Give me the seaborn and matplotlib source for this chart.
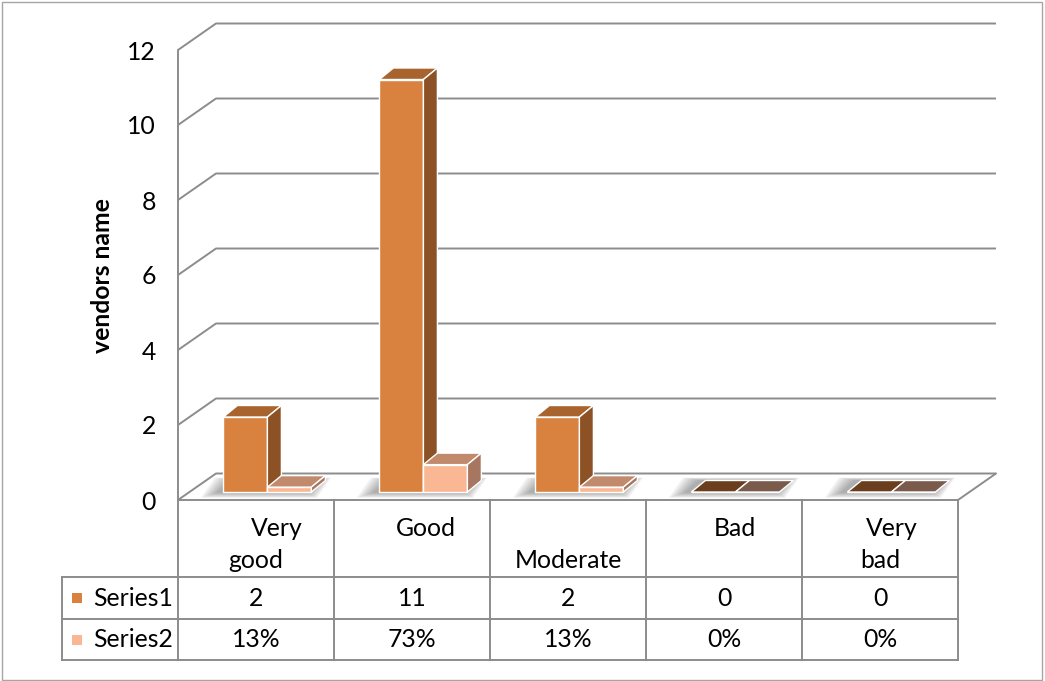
import matplotlib
matplotlib.use("Agg")
import matplotlib.pyplot as plt
from matplotlib.patches import Polygon, Rectangle
import pandas as pd
import seaborn as sns

# ---- data -------------------------------------------------------------
categories = ["Very good", "Good", "Moderate", "Bad", "Very bad"]
series_names = ["Series1", "Series2"]
series1 = [2, 11, 2, 0, 0]
series2 = [0.13, 0.73, 0.13, 0.0, 0.0]
y_ticks = [0, 2, 4, 6, 8, 10, 12]
y_label = "vendors name"

# wrapped captions of the table header row (first line, second line)
caption_lines = [("Very", "good"), ("Good", ""), ("", "Moderate"), ("Bad", ""), ("Very", "bad")]
caption_nudge = [21, 14, 0, 11, 12]  # px shift of the first caption line

# ---- style ------------------------------------------------------------
front_cols = ["#D9823F", "#F9B793"]
side_cols = ["#8C5226", "#A67660"]
top_cols = ["#A9642E", "#C18A6D"]
flat_cols = ["#6B3F1E", "#7A5A4B"]
grid_col = "#8C8C8C"
FS = 17.8

W, H, DPI = 1045, 681, 100
sns.set_style("white")
plt.rcParams["font.family"] = ["Lato", "DejaVu Sans"]
plt.rcParams["text.color"] = "black"

fig = plt.figure(figsize=(W / DPI, H / DPI), dpi=DPI)

# front plane of the 3-D plot area (pixels)
L, R, Y0, Y12 = 178, 958, 500, 50
ax = fig.add_axes([L / W, 1 - Y0 / H, (R - L) / W, (Y0 - Y12) / H])
sx = (R - L) / len(categories)
sy = (Y0 - Y12) / 12.0


def px(dx, dy):
    """pixel offset -> data offset on the plot axes"""
    return dx / sx, dy / sy


df = pd.DataFrame({
    "category": categories * 2,
    "series": [series_names[0]] * len(categories) + [series_names[1]] * len(categories),
    "value": series1 + series2,
})

sns.barplot(data=df, x="category", y="value", hue="series", order=categories,
            hue_order=series_names, palette=front_cols, saturation=1,
            width=0.564, gap=0, dodge=True, edgecolor="white", linewidth=1.0,
            errorbar=None, legend=False, ax=ax)

ax.set_xlim(-0.5, len(categories) - 0.5)
ax.set_ylim(0, 12)
ax.set_xlabel("")
ax.set_ylabel("")
ax.set_xticks([])
ax.set_yticks(y_ticks)
ax.set_yticklabels([str(t) for t in y_ticks], fontsize=FS, color="black")
ax.tick_params(axis="y", length=0, pad=16)
for sp in ax.spines.values():
    sp.set_visible(False)
ax.patch.set_alpha(0)

# walls and floor
bx, by = px(38, 26.5)
lw_grid = 1.4
x_lo, x_hi = -0.5, len(categories) - 0.5
for t in y_ticks:
    ax.plot([x_lo, x_lo + bx, x_hi + bx], [t, t + by, t + by], color=grid_col,
            lw=lw_grid, zorder=1, clip_on=False, solid_capstyle="butt")
ax.plot([x_lo, x_lo], [0, 12], color=grid_col, lw=lw_grid, zorder=1, clip_on=False)
ax.plot([x_lo, x_hi, x_hi + bx], [0, 0, by], color=grid_col, lw=lw_grid,
        zorder=1, clip_on=False)

# 3-D bar blocks built on seaborn's bars
fx, fy = px(11.4, 8)
bdx, bdy = px(14, 11.5)

# soft floor shadows around each group
half = 0.564 / 2
for i in range(len(categories)):
    xa, xb = i - half + fx, i + half + fx
    for k in range(8, 0, -1):
        ex, ey = px(2.2 * k, 1.2 * k)
        sh, _ = px(-5, 0)
        poly = [(xa - ex + sh, fy - ey * 0.6), (xb + ex * 0.6 + sh, fy - ey * 0.6),
                (xb + bdx + ex * 0.6 + sh, fy + bdy + ey * 0.3),
                (xa + bdx - ex + sh, fy + bdy + ey * 0.3)]
        ax.add_patch(Polygon(poly, closed=True, facecolor="#505050", edgecolor="none",
                             alpha=0.07, zorder=2, clip_on=False))

for s, cont in enumerate(ax.containers):
    for bar in cont.patches:
        x0 = bar.get_x() + fx
        w = bar.get_width()
        h = bar.get_height()
        bar.set_x(x0)
        bar.set_y(fy)
        bar.set_zorder(4 + s)
        bar.set_clip_on(False)
        y1 = fy + h
        top_c = top_cols[s] if h > 0 else flat_cols[s]
        top = Polygon([(x0, y1), (x0 + w, y1), (x0 + w + bdx, y1 + bdy), (x0 + bdx, y1 + bdy)],
                      closed=True, facecolor=top_c, edgecolor="white", lw=1.0,
                      zorder=4 + s, clip_on=False)
        ax.add_patch(top)
        if h > 0:
            side = Polygon([(x0 + w, fy), (x0 + w + bdx, fy + bdy), (x0 + w + bdx, y1 + bdy),
                            (x0 + w, y1)], closed=True, facecolor=side_cols[s],
                           edgecolor="white", lw=1.0, zorder=4 + s, clip_on=False)
            ax.add_patch(side)

# axis title
fig.text(103 / W, 1 - 276 / H, y_label, rotation=90, ha="center", va="center",
         fontsize=FS, fontweight="bold")

# ---- data table -------------------------------------------------------
TL, TB = 62, 660
ROW1, ROW2 = 77, 119  # row separators below the floor edge (px)
ax_t = fig.add_axes([TL / W, 1 - TB / H, (R - TL) / W, (TB - Y0) / H])
t_left = x_lo - (L - TL) / sx
ax_t.set_xlim(t_left, x_hi)
ax_t.set_ylim(TB - Y0, 0)
ax_t.axis("off")

tbl_kw = dict(color=grid_col, lw=lw_grid, clip_on=False, solid_capstyle="projecting")
for yy in (ROW1, ROW2, TB - Y0):
    ax_t.plot([t_left, x_hi], [yy, yy], **tbl_kw)
for j in range(len(categories) + 1):
    ax_t.plot([x_lo + j, x_lo + j], [0, TB - Y0], **tbl_kw)
ax_t.plot([t_left, t_left], [ROW1, TB - Y0], **tbl_kw)

line1_y, line2_y = 29, 61
for i, (l1, l2) in enumerate(caption_lines):
    if l1:
        ax_t.text(i + caption_nudge[i] / sx, line1_y, l1, ha="center", va="center", fontsize=FS)
    if l2:
        ax_t.text(i, line2_y, l2, ha="center", va="center", fontsize=FS)

rows = [(series1, lambda v: f"{v:g}"), (series2, lambda v: f"{v:.0%}")]
row_mid = [(ROW1 + ROW2) / 2, (ROW2 + TB - Y0) / 2]
for r, (vals, fmt) in enumerate(rows):
    yc = row_mid[r]
    for i, v in enumerate(vals):
        ax_t.text(i, yc, fmt(v), ha="center", va="center", fontsize=FS)
    key_w = 10 / sx
    ax_t.add_patch(Rectangle((t_left + 10 / sx, yc - 5), key_w, 10, facecolor=front_cols[r],
                             edgecolor="none", clip_on=False))
    ax_t.text(t_left + 31 / sx, yc, series_names[r], ha="left", va="center", fontsize=FS)

# chart frame
fig.patches.append(Rectangle((2 / W, 1 / H), 1040 / W, 678 / H, transform=fig.transFigure,
                             fill=False, edgecolor="#A6A6A6", lw=1.0))

fig.savefig("out.png", dpi=DPI)
